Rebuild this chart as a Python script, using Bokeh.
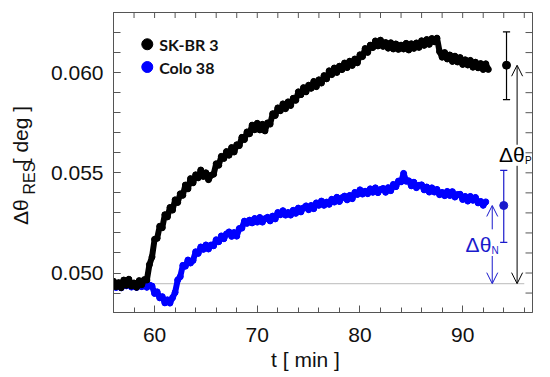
import numpy as np
from bokeh.plotting import figure
from bokeh.models import Range1d, FixedTicker, LinearAxis, Label, Arrow, OpenHead, PrintfTickFormatter
from bokeh.embed import file_html
from bokeh.resources import INLINE

# ---------------- data ----------------
t_start = 56.0
t_step = 0.25

sk_br3 = [
    0.04959, 0.04932, 0.04952, 0.04927, 0.04965, 0.04939, 0.04969, 0.04935, 0.04950, 0.04929, 0.04962, 0.04942,
    0.04967, 0.04965, 0.05042, 0.05080, 0.05168, 0.05173, 0.05233, 0.05226, 0.05291, 0.05280, 0.05327, 0.05314,
    0.05365, 0.05352, 0.05395, 0.05388, 0.05439, 0.05420, 0.05471, 0.05450, 0.05490, 0.05475, 0.05514, 0.05482,
    0.05500, 0.05466, 0.05488, 0.05493, 0.05545, 0.05538, 0.05582, 0.05572, 0.05606, 0.05588, 0.05626, 0.05604,
    0.05640, 0.05636, 0.05677, 0.05666, 0.05704, 0.05695, 0.05738, 0.05715, 0.05747, 0.05714, 0.05742, 0.05709,
    0.05749, 0.05743, 0.05795, 0.05786, 0.05824, 0.05810, 0.05844, 0.05820, 0.05854, 0.05836, 0.05872, 0.05862,
    0.05904, 0.05890, 0.05925, 0.05904, 0.05937, 0.05922, 0.05956, 0.05930, 0.05964, 0.05948, 0.05985, 0.05969,
    0.06009, 0.05990, 0.06023, 0.06001, 0.06032, 0.06015, 0.06048, 0.06025, 0.06057, 0.06036, 0.06068, 0.06049,
    0.06089, 0.06080, 0.06120, 0.06101, 0.06137, 0.06125, 0.06158, 0.06133, 0.06162, 0.06131, 0.06150, 0.06122,
    0.06149, 0.06118, 0.06143, 0.06116, 0.06137, 0.06118, 0.06146, 0.06113, 0.06144, 0.06121, 0.06148, 0.06126,
    0.06159, 0.06136, 0.06165, 0.06141, 0.06170, 0.06154, 0.06172, 0.06105, 0.06077, 0.06100, 0.06068, 0.06088,
    0.06056, 0.06082, 0.06053, 0.06075, 0.06041, 0.06064, 0.06038, 0.06061, 0.06027, 0.06052, 0.06024, 0.06045,
    0.06016, 0.06044, 0.06016,
]

colo38 = [
    0.04950, 0.04928, 0.04946, 0.04926, 0.04952, 0.04936, 0.04954, 0.04930, 0.04942, 0.04928, 0.04950, 0.04932,
    0.04953, 0.04929, 0.04940, 0.04935, 0.04898, 0.04906, 0.04876, 0.04882, 0.04851, 0.04866, 0.04850, 0.04877,
    0.04903, 0.04965, 0.04982, 0.05038, 0.05034, 0.05065, 0.05050, 0.05063, 0.05106, 0.05098, 0.05130, 0.05118,
    0.05140, 0.05120, 0.05140, 0.05136, 0.05166, 0.05156, 0.05185, 0.05171, 0.05195, 0.05205, 0.05183, 0.05202,
    0.05184, 0.05222, 0.05224, 0.05259, 0.05248, 0.05264, 0.05250, 0.05272, 0.05254, 0.05277, 0.05254, 0.05271,
    0.05278, 0.05260, 0.05284, 0.05270, 0.05302, 0.05291, 0.05311, 0.05289, 0.05302, 0.05289, 0.05313, 0.05298,
    0.05324, 0.05305, 0.05325, 0.05335, 0.05316, 0.05337, 0.05321, 0.05350, 0.05338, 0.05359, 0.05338, 0.05354,
    0.05343, 0.05368, 0.05354, 0.05378, 0.05357, 0.05376, 0.05384, 0.05365, 0.05387, 0.05371, 0.05402, 0.05392,
    0.05415, 0.05394, 0.05408, 0.05396, 0.05420, 0.05403, 0.05425, 0.05401, 0.05417, 0.05422, 0.05403, 0.05426,
    0.05411, 0.05442, 0.05431, 0.05459, 0.05455, 0.05497, 0.05458, 0.05460, 0.05435, 0.05453, 0.05426, 0.05438,
    0.05440, 0.05415, 0.05429, 0.05404, 0.05425, 0.05404, 0.05417, 0.05391, 0.05402, 0.05386, 0.05407, 0.05387,
    0.05406, 0.05379, 0.05392, 0.05393, 0.05367, 0.05382, 0.05359, 0.05382, 0.05363, 0.05377, 0.05350, 0.05357,
    0.05338, 0.05355,
]

baseline = 0.04947
baseline_t = [56.0, 96.0]

# error bars (mean +- spread) drawn at the right
err_t = [94.27, 94.0]
err_mean = [0.06037, 0.05337]
err_lo = [0.05865, 0.05153]
err_hi = [0.06203, 0.05512]
err_colors = ["#000000", "#1a1acc"]

x_major = [60, 70, 80, 90]
x_minor = list(range(56, 98, 2))
y_major = [0.050, 0.055, 0.060]
y_minor = [0.048 + 0.001 * i for i in range(16)]

series_names = ["SK-BR 3", "Colo 38"]
series_colors = ["#000000", "#0000ff"]

X0, X1 = 56.0, 96.8
Y0, Y1 = 0.04803, 0.063
NB = "\u00a0"

# ---------------- figure ----------------
p = figure(frame_width=419, frame_height=300, x_range=Range1d(X0, X1), y_range=Range1d(Y0, Y1),
           output_backend="svg", toolbar_location=None,
           min_border_left=113, min_border_right=10, min_border_top=12, min_border_bottom=52)
p.xgrid.visible = False
p.ygrid.visible = False
p.outline_line_color = "#555555"
p.background_fill_color = "white"
p.border_fill_color = "white"

axis_col = "#555555"
for ax in (p.xaxis[0], p.yaxis[0]):
    ax.axis_line_color = axis_col
    ax.major_tick_line_color = axis_col
    ax.minor_tick_line_color = axis_col
    ax.major_tick_in = 7
    ax.major_tick_out = 0
    ax.minor_tick_in = 5
    ax.minor_tick_out = 0
    ax.major_label_text_font = "Liberation Sans"
    ax.major_label_text_font_size = "21px"
    ax.major_label_text_color = "#111111"

p.xaxis.ticker = FixedTicker(ticks=x_major, minor_ticks=x_minor)
p.yaxis.ticker = FixedTicker(ticks=y_major, minor_ticks=y_minor)
p.yaxis.formatter = PrintfTickFormatter(format="%.3f")
p.yaxis.major_label_standoff = 10
p.xaxis.major_label_standoff = 15
p.yaxis.minor_tick_in = 7

# x title (shifted left with trailing no-break spaces)
p.xaxis.axis_label = "t [ min ]" + NB * 6
p.xaxis.axis_label_text_font = "Liberation Sans"
p.xaxis.axis_label_text_font_size = "21px"
p.xaxis.axis_label_text_font_style = "normal"
p.xaxis.axis_label_text_color = "#111111"
p.xaxis.axis_label_standoff = 3

# y title: subscript "RES" on an inner axis, "Δθ ... [ deg ]" on an outer axis
res_axis = LinearAxis(ticker=FixedTicker(ticks=[]), axis_line_color=None, major_tick_out=0, major_tick_in=0,
                      minor_tick_out=0, minor_tick_in=0, major_label_standoff=0,
                      axis_label="RES" + NB * 7, axis_label_standoff=10,
                      axis_label_text_font="Liberation Sans", axis_label_text_font_size="16px",
                      axis_label_text_font_style="normal", axis_label_text_color="#111111")
main_axis = LinearAxis(ticker=FixedTicker(ticks=[]), axis_line_color=None, major_tick_out=0, major_tick_in=0,
                       minor_tick_out=0, minor_tick_in=0, major_label_standoff=0,
                       axis_label="Δθ" + NB * 6 + "[ deg ]" + NB, axis_label_standoff=-14,
                       axis_label_text_font="Liberation Sans", axis_label_text_font_size="21px",
                       axis_label_text_font_style="normal", axis_label_text_color="#111111")
p.add_layout(res_axis, "left")
p.add_layout(main_axis, "left")

# ticks on the top and right frame edges
p.scatter(x_minor, [Y1] * len(x_minor), marker="dash", angle=np.pi / 2, size=11, line_color=axis_col)
p.scatter([X1] * len(y_minor), y_minor, marker="dash", size=14, line_color=axis_col)

# baseline
p.line(baseline_t, [baseline, baseline], line_color="#c8c8c8", line_width=1.2)

# data
t_black = t_start + t_step * np.arange(len(sk_br3))
t_blue = t_start + t_step * np.arange(len(colo38))
p.line(t_blue, colo38, line_color=series_colors[1], line_width=6, line_join="round")
p.scatter(t_blue, colo38, marker="circle", size=6, fill_color=series_colors[1], line_color=series_colors[1])
p.line(t_black, sk_br3, line_color=series_colors[0], line_width=6, line_join="round")
p.scatter(t_black, sk_br3, marker="circle", size=6, fill_color=series_colors[0], line_color=series_colors[0])

# error bars
for i in range(2):
    c = err_colors[i]
    p.segment([err_t[i]], [err_lo[i]], [err_t[i]], [err_hi[i]], line_color=c, line_width=1.2)
    p.segment([err_t[i] - 0.35, err_t[i] - 0.35], [err_lo[i], err_hi[i]],
              [err_t[i] + 0.35, err_t[i] + 0.35], [err_lo[i], err_hi[i]], line_color=c, line_width=1.2)
    p.scatter([err_t[i]], [err_mean[i]], marker="circle", size=8, fill_color=c, line_color=c)

# legend
leg_t = 59.29
leg_y = [0.061415, 0.06028]
for i in range(2):
    p.scatter([leg_t], [leg_y[i]], marker="circle", size=11, fill_color=series_colors[i], line_color=series_colors[i])
    p.add_layout(Label(x=60.45, y=leg_y[i], text=series_names[i], text_font="Lato", text_font_style="bold",
                       text_font_size="16px", text_baseline="middle", text_align="left", text_color="#111111"))

# delta arrows
xP = 95.3
xN = 92.88
p.add_layout(Arrow(end=OpenHead(size=11, line_color="#000000", line_width=1), x_start=xP, y_start=0.05640,
                   x_end=xP, y_end=err_mean[0], line_color="#000000", line_width=1))
p.add_layout(Arrow(end=OpenHead(size=11, line_color="#000000", line_width=1), x_start=xP, y_start=0.05535,
                   x_end=xP, y_end=baseline, line_color="#000000", line_width=1))
p.add_layout(Arrow(end=OpenHead(size=11, line_color="#1a1acc", line_width=1), x_start=xN, y_start=0.05218,
                   x_end=xN, y_end=err_mean[1], line_color="#1a1acc", line_width=1))
p.add_layout(Arrow(end=OpenHead(size=11, line_color="#1a1acc", line_width=1), x_start=xN, y_start=0.05085,
                   x_end=xN, y_end=baseline, line_color="#1a1acc", line_width=1))

p.add_layout(Label(x=96.03, y=0.055905, text="Δθ", text_font="Liberation Sans", text_font_size="21px",
                   text_align="right", text_baseline="middle", text_color="#000000"))
p.add_layout(Label(x=96.06, y=0.055615, text="P", text_font="Liberation Sans", text_font_size="10px",
                   text_align="left", text_baseline="middle", text_color="#000000"))
p.add_layout(Label(x=92.79, y=0.051405, text="Δθ", text_font="Liberation Sans", text_font_size="21px",
                   text_align="right", text_baseline="middle", text_color="#1a1acc"))
p.add_layout(Label(x=92.81, y=0.051115, text="N", text_font="Liberation Sans", text_font_size="10px",
                   text_align="left", text_baseline="middle", text_color="#1a1acc"))

open("out.html", "w").write(file_html(p, INLINE))
